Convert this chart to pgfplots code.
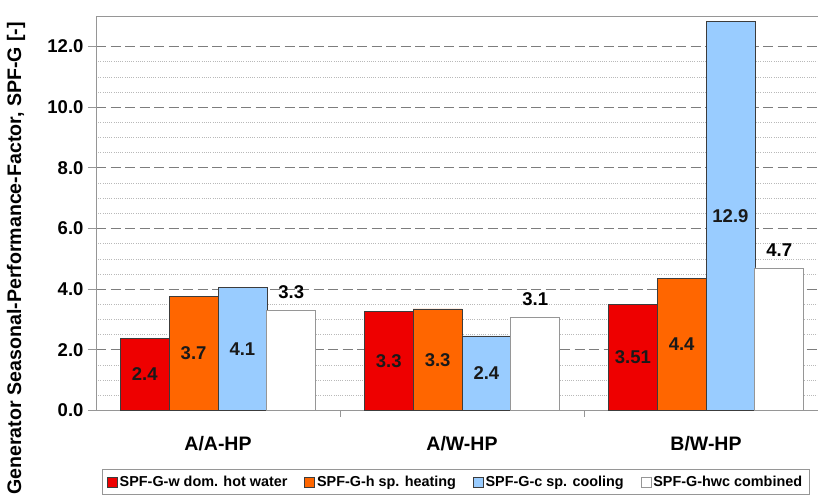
\documentclass[border=0pt]{standalone}
\usepackage{pgfplots}
\pgfplotsset{compat=1.18}
\usepackage{pgfplotstable}
\usepackage{fontspec}
\setmainfont{Liberation Sans}
\definecolor{cred}{RGB}{238,0,0}
\definecolor{corange}{RGB}{255,102,0}
\definecolor{cblue}{RGB}{153,204,255}
\definecolor{cborder}{RGB}{60,60,60}
\definecolor{cgrid}{RGB}{125,125,125}
\definecolor{cminor}{RGB}{185,185,185}
\definecolor{caxis}{RGB}{150,150,150}
\definecolor{clab}{RGB}{25,25,25}

\pgfplotstableread{
x y lab
0 2.39 2.4
1 3.26 3.3
2 3.51 3.51
}\tw
\pgfplotstableread{
x y lab
0 3.75 3.7
1 3.35 3.3
2 4.36 4.4
}\th
\pgfplotstableread{
x y lab
0 4.07 4.1
1 2.46 2.4
2 12.83 12.9
}\tc
\pgfplotstableread{
x y lab
0 3.29 3.3
1 3.07 3.1
2 4.70 4.7
}\thwc

\begin{document}
\begin{tikzpicture}
\begin{axis}[
  scale only axis,
  width=723pt, height=394.3pt,
  xmin=-0.5, xmax=2.463,
  ymin=0, ymax=13,
  ybar=0pt, bar width=0.2,
  every axis plot post/.append style={
    legend image code/.code={\draw[##1,line width=0.6pt] (0pt,-5pt) rectangle (10pt,5pt);}},
  axis line style={caxis, line width=0.8pt},
  ytick={0,2,...,12},
  minor y tick num=3,
  ymajorgrids, yminorgrids,
  major grid style={cgrid, dash pattern=on 10pt off 4.5pt, line width=0.8pt},
  minor grid style={cminor, dash pattern=on 1pt off 1.2pt, line width=0.6pt},
  tick align=outside,
  xtick pos=lower, ytick pos=lower,
  major tick length=8pt, minor tick length=0pt,
  ytick style={caxis, line width=0.8pt},
  yticklabel style={font=\bfseries\fontsize{18.5}{18.5}\selectfont, xshift=-1pt},
  /pgf/number format/.cd, fixed, fixed zerofill, precision=1, assume math mode=true,
  /pgfplots/.cd,
  xtick={0,1,2},
  xticklabels={A/A-HP, A/W-HP, B/W-HP},
  xtick style={draw=none},
  xticklabel style={font=\bfseries\fontsize{19.5}{19.5}\selectfont, yshift=-14pt},
  extra x ticks={0.5,1.5},
  extra x tick labels={},
  extra x tick style={xtick style={draw=caxis, line width=0.8pt}, xtick pos=lower, major tick length=6pt, grid=none},
  ylabel={Generator Seasonal-Performance-Factor, SPF-G [-]},
  ylabel style={font=\bfseries\fontsize{19.6}{19.6}\selectfont, at={(axis description cs:-0.1106,0.386)}, anchor=center},
  legend columns=4,
  legend style={at={(axis description cs:0.0079,-0.1484)}, anchor=north west,
    draw=caxis, line width=0.8pt, inner xsep=5pt, inner ysep=4.5pt,
    font=\bfseries\fontsize{14.4}{16}\selectfont,
    /tikz/every even column/.append style={column sep=15pt}},
  nodes near coords,
  point meta=explicit symbolic,
  every node near coord/.append style={font=\bfseries\fontsize{18.5}{18.5}\selectfont, text=clab},
]
\addplot[fill=cred, draw=cborder, line width=0.6pt,
  visualization depends on=rawy \as \rawy,
  every node near coord/.append style={anchor=center, shift={(axis direction cs:0,{-\rawy/2})}}]
  table[x=x, y=y, meta=lab] {\tw};
\addplot[fill=corange, draw=cborder, line width=0.6pt,
  visualization depends on=rawy \as \rawy,
  every node near coord/.append style={anchor=center, shift={(axis direction cs:0,{-\rawy/2})}}]
  table[x=x, y=y, meta=lab] {\th};
\addplot[fill=cblue, draw=cborder, line width=0.6pt,
  visualization depends on=rawy \as \rawy,
  every node near coord/.append style={anchor=center, shift={(axis direction cs:0,{-\rawy/2})}}]
  table[x=x, y=y, meta=lab] {\tc};
\addplot[fill=white, draw=caxis, line width=0.8pt,
  every node near coord/.append style={anchor=south, yshift=8pt, text=black}]
  table[x=x, y=y, meta=lab] {\thwc};
\legend{SPF-G-w dom. hot water, SPF-G-h sp. heating, SPF-G-c sp. cooling, SPF-G-hwc combined}
\end{axis}
\pgfresetboundingbox
\path[use as bounding box] ([shift={(-96pt,-88.5pt)}]current axis.south west) rectangle ([shift={(722pt,410.5pt)}]current axis.south west);
\end{tikzpicture}
\end{document}
